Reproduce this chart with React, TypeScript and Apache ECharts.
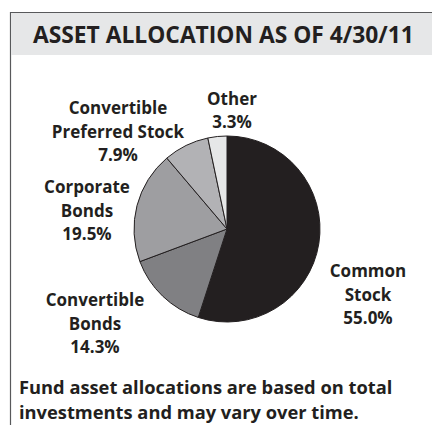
import React, { useEffect, useRef } from "react";
import * as echarts from "echarts";

const categories = [
  "Common\nStock",
  "Convertible\nBonds",
  "Corporate\nBonds",
  "Convertible\nPreferred Stock",
  "Other",
];
const values = [55.0, 14.3, 19.5, 7.9, 3.3];
const colors = ["#231f20", "#808083", "#9e9ea1", "#b2b2b5", "#e6e7e8"];
// label anchor positions (layout only)
const labelPos: [number, number][] = [
  [368, 294],
  [95, 323],
  [87, 210],
  [118, 131],
  [232, 110],
];
const titleText = "ASSET ALLOCATION AS OF 4/30/11";
const footLines = [
  "Fund asset allocations are based on total",
  "investments and may vary over time.",
];

const FONT = "'Open Sans', 'DejaVu Sans', sans-serif";

export default function App() {
  const ref = useRef<HTMLDivElement>(null);
  useEffect(() => {
    if (!ref.current) return;
    const chart = echarts.init(ref.current, null, { renderer: "svg" });
    chart.setOption({
      animation: false,
      backgroundColor: "#ffffff",
      graphic: [
        {
          type: "rect",
          shape: { x: 10.5, y: 12.5, width: 440, height: 430 },
          style: { fill: "#ffffff", stroke: "#58595b", lineWidth: 1.2 },
          z: 0,
        },
        {
          type: "rect",
          shape: { x: 11, y: 13, width: 440, height: 42 },
          style: { fill: "#e6e7e8" },
          z: 1,
        },
        {
          type: "text",
          x: 33,
          y: 34,
          style: {
            text: titleText,
            font: `bold 22.8px ${FONT}`,
            fill: "#231f20",
            verticalAlign: "middle",
          },
          z: 2,
        },
        ...footLines.map((t, i) => ({
          type: "text",
          x: 19,
          y: 386.5 + i * 25.2,
          style: {
            text: t,
            font: `bold 18.3px ${FONT}`,
            fill: "#231f20",
            verticalAlign: "middle",
          },
          z: 2,
        })),
      ],
      series: [
        {
          type: "pie",
          center: [227, 229],
          radius: 93,
          startAngle: 90,
          clockwise: true,
          z: 3,
          data: categories.map((c, i) => ({
            name: c,
            value: values[i],
            itemStyle: { color: colors[i] },
          })),
          itemStyle: { borderColor: "#231f20", borderWidth: 1 },
          label: {
            show: true,
            position: "outside",
            overflow: "none",
            formatter: (p: any) => `${p.name}\n${Number(p.value).toFixed(1)}%`,
            fontFamily: FONT,
            fontWeight: "bold",
            fontSize: 17,
            lineHeight: 23.5,
            color: "#231f20",
            align: "center",
          },
          labelLine: { show: false },
          labelLayout: (p: any) => ({
            x: labelPos[p.dataIndex][0],
            y: labelPos[p.dataIndex][1],
            align: "center",
            verticalAlign: "middle",
          }),
          emphasis: { disabled: true },
        },
      ],
    });
    return () => chart.dispose();
  }, []);
  return (
    <div
      ref={ref}
      style={{ position: "fixed", left: 0, top: 0, width: 432, height: 425 }}
    />
  );
}
